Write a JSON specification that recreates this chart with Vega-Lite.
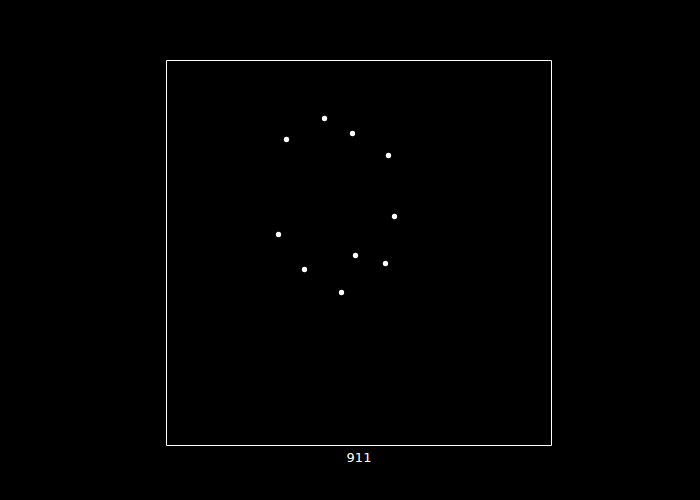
{
  "$schema": "https://vega.github.io/schema/vega-lite/v6.json",
  "autosize": "none",
  "width": 385,
  "height": 385,
  "padding": {"left": 166, "top": 60, "right": 149, "bottom": 55},
  "background": "black",
  "config": {
    "view": {"stroke": "white", "strokeWidth": 1, "fill": "black"},
    "font": "DejaVu Sans"
  },
  "data": {
    "values": [
      {"x": 120.5, "y": 305.5},
      {"x": 158.5, "y": 326.5},
      {"x": 186.5, "y": 311.5},
      {"x": 222.5, "y": 289.5},
      {"x": 228.5, "y": 228.5},
      {"x": 112.5, "y": 210.5},
      {"x": 189.5, "y": 189.5},
      {"x": 219.5, "y": 181.5},
      {"x": 138.5, "y": 175.5},
      {"x": 175.5, "y": 152.5}
    ]
  },
  "mark": {"type": "circle", "color": "white", "opacity": 1, "size": 28},
  "encoding": {
    "x": {
      "field": "x", "type": "quantitative",
      "scale": {"domain": [0, 385], "nice": false, "zero": false},
      "axis": {"title": "911", "labels": false, "ticks": false, "domain": false, "grid": false,
               "titleColor": "white", "titleFontSize": 13, "titleFontWeight": "normal", "titlePadding": 6}
    },
    "y": {
      "field": "y", "type": "quantitative",
      "scale": {"domain": [0, 385], "nice": false, "zero": false},
      "axis": null
    }
  }
}
